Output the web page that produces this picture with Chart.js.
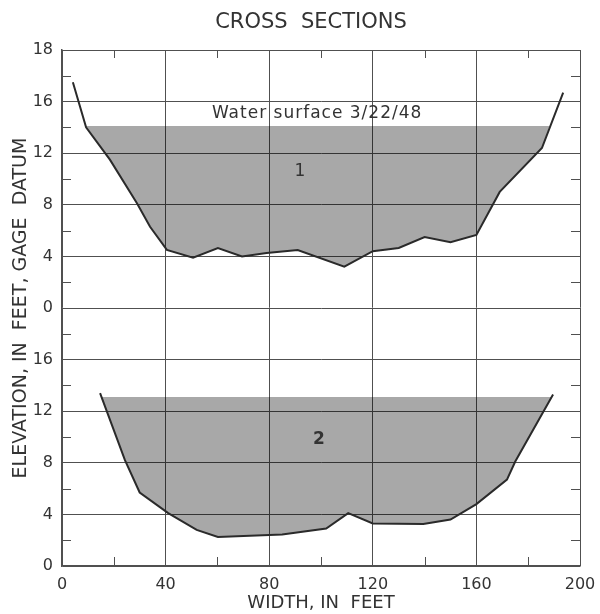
<!DOCTYPE html>
<html lang="en">
<head>
    <meta charset="UTF-8">
    <title>Cross Sections</title>
    <script src="https://cdn.jsdelivr.net/npm/chart.js"></script>
    <style>
        html, body { margin: 0; padding: 0; background: #fff; }
        #wrap { width: 600px; height: 614px; }
    </style>
</head>
<body>
    <div id="wrap"><canvas id="myChart" width="600" height="614"></canvas></div>

    <script>
        // section 1 (upper plot), elevations in feet
        const upperX = [4.2, 9.3, 18.5, 29, 34, 40.5, 50.6, 60.2, 69.5, 79, 91, 109, 120, 130, 140, 150, 160, 169, 185.3, 193.5];
        const upperElev = [17.5, 14.0, 11.5, 8.1, 6.3, 4.5, 3.9, 4.65, 4.0, 4.26, 4.5, 3.2, 4.4, 4.65, 5.5, 5.1, 5.66, 9.0, 12.4, 16.7];

        // section 2 (lower plot)
        const lowerX = [14.7, 24.3, 30, 41, 52, 60.2, 85, 102, 110.5, 120, 139.5, 150, 160, 171.8, 175, 189.6];
        const lowerElev = [13.4, 8.2, 5.7, 4.1, 2.8, 2.25, 2.45, 2.9, 4.1, 3.3, 3.25, 3.6, 4.8, 6.7, 8.1, 13.3];

        // water surface for each section: level, left edge, right edge
        const waterLevel = [14.1, 13.1];
        const waterStart = [9.3, 15.0];
        const waterEnd = [188.2, 189.0];

        // the upper plot sits 20 ft above the lower one on the shared axis
        const upperOffset = 20;

        const xTicks = [0, 40, 80, 120, 160, 200];
        const yTickLabels = ['0', '4', '8', '12', '16', '0', '4', '8', '12', '16', '18'];

        const notes = [
            { text: 'Water surface 3/22/48', x: 98.5, y: 15.1 + upperOffset, bold: false },
            { text: '1', x: 91.9, y: 10.6 + upperOffset, bold: false },
            { text: '2', x: 99.2, y: 9.8, bold: true }
        ];

        const ink = '#333333';
        const gridColor = '#505050';

        function bedPoints(xs, ys, off) {
            return xs.map((x, i) => ({ x: x, y: ys[i] + off }));
        }

        function waterPolygon(xs, ys, off, k) {
            const pts = [{ x: waterStart[k], y: waterLevel[k] + off }];
            xs.forEach((x, i) => {
                if (x > waterStart[k] && x < waterEnd[k]) pts.push({ x: x, y: ys[i] + off });
            });
            pts.push({ x: waterEnd[k], y: waterLevel[k] + off });
            return pts;
        }

        const lineStyle = {
            borderColor: '#2a2a2a',
            borderWidth: 2,
            pointRadius: 0,
            tension: 0,
            fill: false
        };
        const fillStyle = {
            borderWidth: 0,
            borderColor: 'rgba(0,0,0,0)',
            backgroundColor: 'rgba(0,0,0,0.34)',
            pointRadius: 0,
            tension: 0,
            fill: 'shape'
        };

        // minor ticks on the frame, title text, labels in the plot
        const extras = {
            id: 'extras',
            afterDraw(chart) {
                const { ctx, chartArea: a, scales } = chart;
                const xs = scales.x, ys = scales.y;
                ctx.save();
                ctx.strokeStyle = gridColor;
                ctx.lineWidth = 1;
                ctx.beginPath();
                for (let v = 20; v < 200; v += 40) {
                    const px = Math.round(xs.getPixelForValue(v)) + 0.5;
                    ctx.moveTo(px, a.top); ctx.lineTo(px, a.top + 8);
                    ctx.moveTo(px, a.bottom); ctx.lineTo(px, a.bottom - 9);
                }
                for (let v = 2; v < 40; v += 4) {
                    const py = Math.round(ys.getPixelForValue(v)) + 0.5;
                    ctx.moveTo(a.left, py); ctx.lineTo(a.left + 9, py);
                    ctx.moveTo(a.right, py); ctx.lineTo(a.right - 9, py);
                }
                ctx.stroke();

                ctx.fillStyle = ink;
                ctx.textAlign = 'center';
                ctx.textBaseline = 'middle';
                ctx.font = '21px "DejaVu Sans"';
                ctx.fillText('CROSS  SECTIONS', 311, 23);

                notes.forEach(n => {
                    ctx.font = (n.bold ? 'bold ' : '') + '17px "DejaVu Sans"';
                    if ('letterSpacing' in ctx) ctx.letterSpacing = n.text.length > 2 ? '1px' : '0px';
                    ctx.fillText(n.text, xs.getPixelForValue(n.x), ys.getPixelForValue(n.y));
                });
                ctx.restore();
            }
        };

        const ctx = document.getElementById('myChart').getContext('2d');
        new Chart(ctx, {
            type: 'line',
            data: {
                datasets: [
                    Object.assign({ label: 'Section 1', data: bedPoints(upperX, upperElev, upperOffset) }, lineStyle),
                    Object.assign({ label: 'Section 2', data: bedPoints(lowerX, lowerElev, 0) }, lineStyle),
                    Object.assign({ label: 'Water 1', data: waterPolygon(upperX, upperElev, upperOffset, 0) }, fillStyle),
                    Object.assign({ label: 'Water 2', data: waterPolygon(lowerX, lowerElev, 0, 1) }, fillStyle)
                ]
            },
            options: {
                responsive: false,
                animation: false,
                layout: { padding: { top: 50, right: 20, bottom: 0, left: 0 } },
                plugins: {
                    legend: { display: false },
                    tooltip: { enabled: false }
                },
                scales: {
                    x: {
                        type: 'linear',
                        min: 0,
                        max: 200,
                        afterBuildTicks: s => { s.ticks = xTicks.map(v => ({ value: v })); },
                        afterFit: s => { s.height = 48; s.paddingLeft = 0; s.paddingRight = 0; },
                        grid: { color: gridColor, lineWidth: 1, drawTicks: false },
                        border: { color: gridColor, width: 1.5 },
                        ticks: {
                            padding: 9,
                            color: ink,
                            font: { family: 'DejaVu Sans', size: 16 },
                            maxRotation: 0
                        },
                        title: {
                            display: true,
                            text: 'WIDTH, IN  FEET',
                            color: ink,
                            font: { family: 'DejaVu Sans', size: 18, lineHeight: 1.2 },
                            padding: { top: 0, bottom: 0 }
                        }
                    },
                    y: {
                        type: 'linear',
                        min: 0,
                        max: 40,
                        afterFit: s => { s.width = 62; s.paddingTop = 0; s.paddingBottom = 0; },
                        grid: { color: gridColor, lineWidth: 1, drawTicks: false },
                        border: { color: gridColor, width: 1.5 },
                        ticks: {
                            stepSize: 4,
                            padding: 9,
                            color: ink,
                            font: { family: 'DejaVu Sans', size: 16 },
                            callback: (v, i) => yTickLabels[i]
                        },
                        title: {
                            display: true,
                            text: 'ELEVATION, IN  FEET, GAGE  DATUM',
                            color: ink,
                            font: { family: 'DejaVu Sans', size: 19, lineHeight: 1.2 },
                            padding: { top: 10, bottom: 0 }
                        }
                    }
                }
            },
            plugins: [extras]
        });
    </script>
</body>
</html>
